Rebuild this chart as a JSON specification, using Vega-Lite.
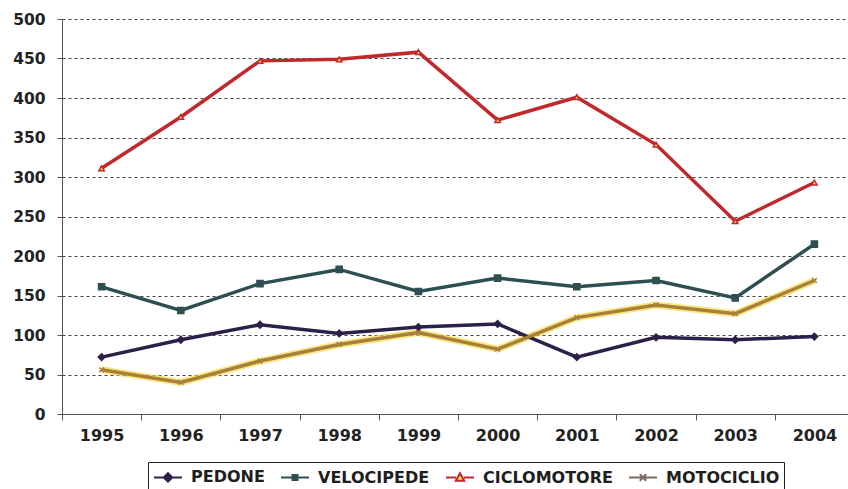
{
  "$schema": "https://vega.github.io/schema/vega-lite/v6.json",
  "width": 786,
  "height": 395,
  "autosize": {"type": "none"},
  "padding": {"left": 62, "top": 19, "right": 0, "bottom": 75},
  "background": "#ffffff",
  "config": {"view": {"stroke": null}, "font": "DejaVu Sans"},
  "data": {
    "values": [
      {"anno": "1995", "serie": "PEDONE", "valore": 72},
      {"anno": "1996", "serie": "PEDONE", "valore": 94},
      {"anno": "1997", "serie": "PEDONE", "valore": 113},
      {"anno": "1998", "serie": "PEDONE", "valore": 102},
      {"anno": "1999", "serie": "PEDONE", "valore": 110},
      {"anno": "2000", "serie": "PEDONE", "valore": 114},
      {"anno": "2001", "serie": "PEDONE", "valore": 72},
      {"anno": "2002", "serie": "PEDONE", "valore": 97},
      {"anno": "2003", "serie": "PEDONE", "valore": 94},
      {"anno": "2004", "serie": "PEDONE", "valore": 98},
      {"anno": "1995", "serie": "VELOCIPEDE", "valore": 161},
      {"anno": "1996", "serie": "VELOCIPEDE", "valore": 131},
      {"anno": "1997", "serie": "VELOCIPEDE", "valore": 165},
      {"anno": "1998", "serie": "VELOCIPEDE", "valore": 183},
      {"anno": "1999", "serie": "VELOCIPEDE", "valore": 155},
      {"anno": "2000", "serie": "VELOCIPEDE", "valore": 172},
      {"anno": "2001", "serie": "VELOCIPEDE", "valore": 161},
      {"anno": "2002", "serie": "VELOCIPEDE", "valore": 169},
      {"anno": "2003", "serie": "VELOCIPEDE", "valore": 147},
      {"anno": "2004", "serie": "VELOCIPEDE", "valore": 215},
      {"anno": "1995", "serie": "CICLOMOTORE", "valore": 311},
      {"anno": "1996", "serie": "CICLOMOTORE", "valore": 376},
      {"anno": "1997", "serie": "CICLOMOTORE", "valore": 447},
      {"anno": "1998", "serie": "CICLOMOTORE", "valore": 449},
      {"anno": "1999", "serie": "CICLOMOTORE", "valore": 458},
      {"anno": "2000", "serie": "CICLOMOTORE", "valore": 372},
      {"anno": "2001", "serie": "CICLOMOTORE", "valore": 401},
      {"anno": "2002", "serie": "CICLOMOTORE", "valore": 341},
      {"anno": "2003", "serie": "CICLOMOTORE", "valore": 244},
      {"anno": "2004", "serie": "CICLOMOTORE", "valore": 293},
      {"anno": "1995", "serie": "MOTOCICLIO", "valore": 56},
      {"anno": "1996", "serie": "MOTOCICLIO", "valore": 40},
      {"anno": "1997", "serie": "MOTOCICLIO", "valore": 67},
      {"anno": "1998", "serie": "MOTOCICLIO", "valore": 88},
      {"anno": "1999", "serie": "MOTOCICLIO", "valore": 103},
      {"anno": "2000", "serie": "MOTOCICLIO", "valore": 82},
      {"anno": "2001", "serie": "MOTOCICLIO", "valore": 122},
      {"anno": "2002", "serie": "MOTOCICLIO", "valore": 138},
      {"anno": "2003", "serie": "MOTOCICLIO", "valore": 127},
      {"anno": "2004", "serie": "MOTOCICLIO", "valore": 169}
    ]
  },
  "encoding": {
    "x": {
      "field": "anno",
      "type": "ordinal",
      "scale": {"type": "band", "range": [0, 792], "paddingInner": 0, "paddingOuter": 0},
      "axis": {
        "title": null,
        "labelAngle": 0,
        "labelFont": "DejaVu Sans",
        "labelFontWeight": "bold",
        "labelFontSize": 16,
        "labelColor": "#222222",
        "domainColor": "#555555",
        "tickColor": "#555555",
        "tickSize": 6,
        "tickBand": "extent",
        "labelPadding": 7,
        "grid": false
      }
    },
    "y": {
      "field": "valore",
      "type": "quantitative",
      "scale": {"domain": [0, 500]},
      "axis": {
        "title": null,
        "values": [0, 50, 100, 150, 200, 250, 300, 350, 400, 450, 500],
        "grid": true,
        "gridDash": [3, 3],
        "gridColor": "#444444",
        "gridWidth": 1,
        "domainColor": "#555555",
        "tickColor": "#555555",
        "tickSize": 5,
        "labelPadding": 12,
        "labelFont": "DejaVu Sans",
        "labelFontWeight": "bold",
        "labelFontSize": 15.5,
        "labelColor": "#222222"
      }
    }
  },
  "layer": [
    {
      "transform": [{"filter": "datum.serie === 'MOTOCICLIO'"}],
      "mark": {"type": "line", "stroke": "#f3d83e", "strokeWidth": 7, "opacity": 0.65},
      "encoding": {}
    },
    {
      "mark": {"type": "line"},
      "encoding": {
        "color": {
          "field": "serie",
          "type": "nominal",
          "scale": {
            "domain": ["PEDONE", "VELOCIPEDE", "CICLOMOTORE", "MOTOCICLIO"],
            "range": ["#2c2048", "#2e4f52", "#c0282b", "#a8803a"]
          },
          "legend": null
        },
        "strokeWidth": {
          "field": "serie",
          "type": "nominal",
          "scale": {
            "domain": ["PEDONE", "VELOCIPEDE", "CICLOMOTORE", "MOTOCICLIO"],
            "range": [3.5, 3.5, 4.2, 2.5]
          },
          "legend": null
        }
      }
    },
    {
      "mark": {"type": "point", "filled": false, "opacity": 1, "strokeWidth": 1.5},
      "encoding": {
        "color": {
          "field": "serie",
          "type": "nominal",
          "scale": {
            "domain": ["PEDONE", "VELOCIPEDE", "CICLOMOTORE", "MOTOCICLIO"],
            "range": ["#2c2048", "#2e4f52", "#c0282b", "#a8803a"]
          },
          "legend": null
        },
        "fill": {
          "field": "serie",
          "type": "nominal",
          "scale": {
            "domain": ["PEDONE", "VELOCIPEDE", "CICLOMOTORE", "MOTOCICLIO"],
            "range": ["#2c2048", "#2e4f52", "#f4e24c", "#a8803a"]
          },
          "legend": null
        },
        "size": {
          "field": "serie",
          "type": "nominal",
          "scale": {
            "domain": ["PEDONE", "VELOCIPEDE", "CICLOMOTORE", "MOTOCICLIO"],
            "range": [45, 22, 55, 40]
          },
          "legend": null
        },
        "shape": {
          "field": "serie",
          "type": "nominal",
          "scale": {
            "domain": ["PEDONE", "VELOCIPEDE", "CICLOMOTORE", "MOTOCICLIO"],
            "range": ["diamond", "square", "triangle-up", "M-1,-1L1,1M-1,1L1,-1"]
          },
          "legend": null
        }
      }
    },
    {
      "transform": [{"filter": "false"}],
      "mark": {"type": "point", "filled": false, "opacity": 1, "size": 400, "strokeWidth": 2},
      "encoding": {
        "color": {
          "field": "serie",
          "type": "nominal",
          "scale": {
            "domain": ["PEDONE", "VELOCIPEDE", "CICLOMOTORE", "MOTOCICLIO"],
            "range": ["#2c2048", "#2e4f52", "#c0282b", "#7a6a60"]
          },
          "legend": {
            "title": null,
            "orient": "none",
            "legendX": 86,
            "legendY": 443,
            "direction": "horizontal",
            "strokeColor": "#222222",
            "padding": 4,
            "labelFont": "DejaVu Sans",
            "labelFontSize": 16,
            "labelFontWeight": "bold",
            "labelColor": "#1e1e1e",
            "labelLimit": 0,
            "labelOffset": 12,
            "symbolOffset": 5,
            "symbolSize": 400,
            "symbolStrokeWidth": 2,
            "columnPadding": 12
          }
        },
        "fill": {
          "field": "serie",
          "type": "nominal",
          "scale": {
            "domain": ["PEDONE", "VELOCIPEDE", "CICLOMOTORE", "MOTOCICLIO"],
            "range": ["#2c2048", "#2e4f52", "#f4e24c", "#7a6a60"]
          }
        },
        "shape": {
          "field": "serie",
          "type": "nominal",
          "scale": {
            "domain": ["PEDONE", "VELOCIPEDE", "CICLOMOTORE", "MOTOCICLIO"],
            "range": [
              "M-1.4,0H1.4M0,-0.42L0.42,0L0,0.42L-0.42,0Z",
              "M-1.4,0H1.4M-0.25,-0.25H0.25V0.25H-0.25Z",
              "M-1.4,0H-0.4M0.4,0H1.4M0,-0.42L0.42,0.32L-0.42,0.32Z",
              "M-1.4,0H1.4M-0.32,-0.32L0.32,0.32M-0.32,0.32L0.32,-0.32"
            ]
          }
        }
      }
    }
  ],
  "resolve": {
    "scale": {"color": "independent", "fill": "independent", "shape": "independent", "size": "independent", "strokeWidth": "independent"}
  }
}
